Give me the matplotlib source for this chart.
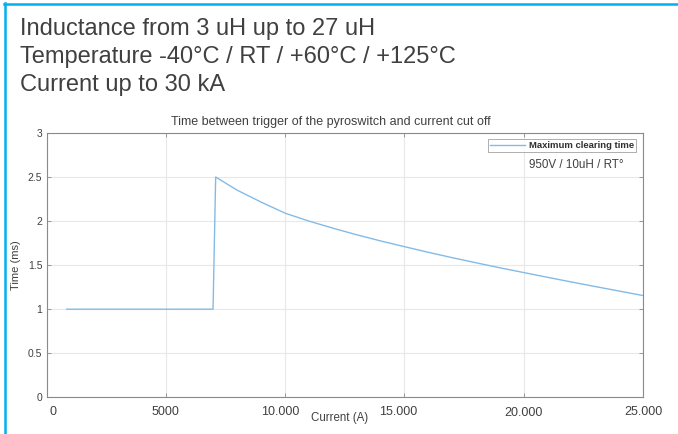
import matplotlib
matplotlib.use("Agg")
import matplotlib.pyplot as plt
from matplotlib.lines import Line2D
from matplotlib.transforms import ScaledTranslation

# ---- data ----
current_a = [850, 6980, 7090, 8000, 9000, 10000, 11000, 12000, 13000, 14000, 15000,
             16000, 17000, 18000, 19000, 20000, 21000, 22000, 23000, 24000, 25000]
time_ms = [1.0, 1.0, 2.5, 2.35, 2.215, 2.09, 2.00, 1.92, 1.845, 1.775, 1.71,
           1.646, 1.585, 1.527, 1.47, 1.416, 1.362, 1.309, 1.257, 1.206, 1.155]
series_label = "Maximum clearing time"
note_text = "950V / 10uH / RT°"
x_ticks = [0, 5000, 10000, 15000, 20000, 25000]
x_tick_labels = ["0", "5000", "10.000", "15.000", "20.000", "25.000"]
y_ticks = [0, 0.5, 1, 1.5, 2, 2.5, 3]
y_tick_labels = ["0", "0.5", "1", "1.5", "2", "2.5", "3"]
header_lines = ["Inductance from 3 uH up to 27 uH",
                "Temperature -40°C / RT / +60°C / +125°C",
                "Current up to 30 kA"]
title = "Time between trigger of the pyroswitch and current cut off"
xlabel = "Current (A)"
ylabel = "Time (ms)"

W, H = 678, 434
fig = plt.figure(figsize=(W / 100, H / 100), dpi=100)
fig.patch.set_facecolor("white")

# frame lines (left and top, cyan)
fig.add_artist(Line2D([4.5 / W, 4.5 / W], [0, 1 - 3 / H], color="#00b0f0", lw=1.8,
                      transform=fig.transFigure))
fig.add_artist(Line2D([3.5 / W, 1], [1 - 3.7 / H, 1 - 3.7 / H], color="#00b0f0", lw=1.8,
                      transform=fig.transFigure))

hdr_font = ["Liberation Sans", "DejaVu Sans"]
for i, line in enumerate(header_lines):
    fig.text(20 / W, 1 - (35 + 28 * i) / H, line, family=hdr_font, fontsize=17,
             color="#404040", va="baseline", ha="left")

left, right, bottom, top = 46.5, 643, 397.3, 133
ax = fig.add_axes([left / W, 1 - bottom / H, (right - left) / W, (bottom - top) / H])

ax.plot(current_a, time_ms, color="#84bbe6", lw=1.0, label=series_label)
ax.set_xlim(0, 25000)
ax.set_ylim(0, 3)

ax.grid(True, color="#e8e8e8", lw=0.8)
ax.set_axisbelow(True)
for s in ax.spines.values():
    s.set_color("#8a8a8a")
    s.set_linewidth(0.8)

ax.tick_params(direction="in", length=3, width=0.6, color="#8a8a8a",
               top=True, right=True)
ax.set_xticks(x_ticks)
ax.set_xticklabels(x_tick_labels, family="Liberation Sans", fontsize=9, color="#404040")
ax.set_yticks(y_ticks)
ax.set_yticklabels(y_tick_labels, family="Liberation Sans", fontsize=7.5, color="#404040")
ax.tick_params(axis="x", pad=6)
ax.tick_params(axis="y", pad=3)

x_offsets = [(6.5, 0), (0, 0), (-5, 0), (-6, 0), (0, -1), (0, 0)]
for lbl, (dx, dy) in zip(ax.get_xticklabels(), x_offsets):
    lbl.set_transform(lbl.get_transform() + ScaledTranslation(dx / 100, dy / 100, fig.dpi_scale_trans))

ax.set_title(title, family="Liberation Sans", fontsize=9, color="#404040", pad=6, x=0.477)
fig.text(340 / W, 1 - 418 / H, xlabel, family="Liberation Sans", fontsize=8.3,
         color="#404040", ha="center", va="center")
fig.text(16 / W, 1 - 265 / H, ylabel, family="Liberation Sans", fontsize=8,
         color="#404040", ha="center", va="center", rotation=90)

leg = ax.legend(loc="upper right", bbox_to_anchor=((636 - left) / (right - left), (bottom - 139) / (bottom - top)),
                frameon=True, fancybox=False, edgecolor="#8a8a8a",
                borderpad=0.2, handlelength=3.7, handletextpad=0.4, borderaxespad=0,
                prop={"family": "Liberation Sans", "size": 6.8, "weight": "bold"})
leg.get_frame().set_linewidth(0.6)
for t in leg.get_texts():
    t.set_color("#303030")
ax.text((624 - left) / (right - left), (bottom - 165) / (bottom - top), note_text,
        transform=ax.transAxes, family="Liberation Sans", fontsize=8.4, color="#404040",
        ha="right", va="center")

fig.savefig("out.png", dpi=100, facecolor="white")
